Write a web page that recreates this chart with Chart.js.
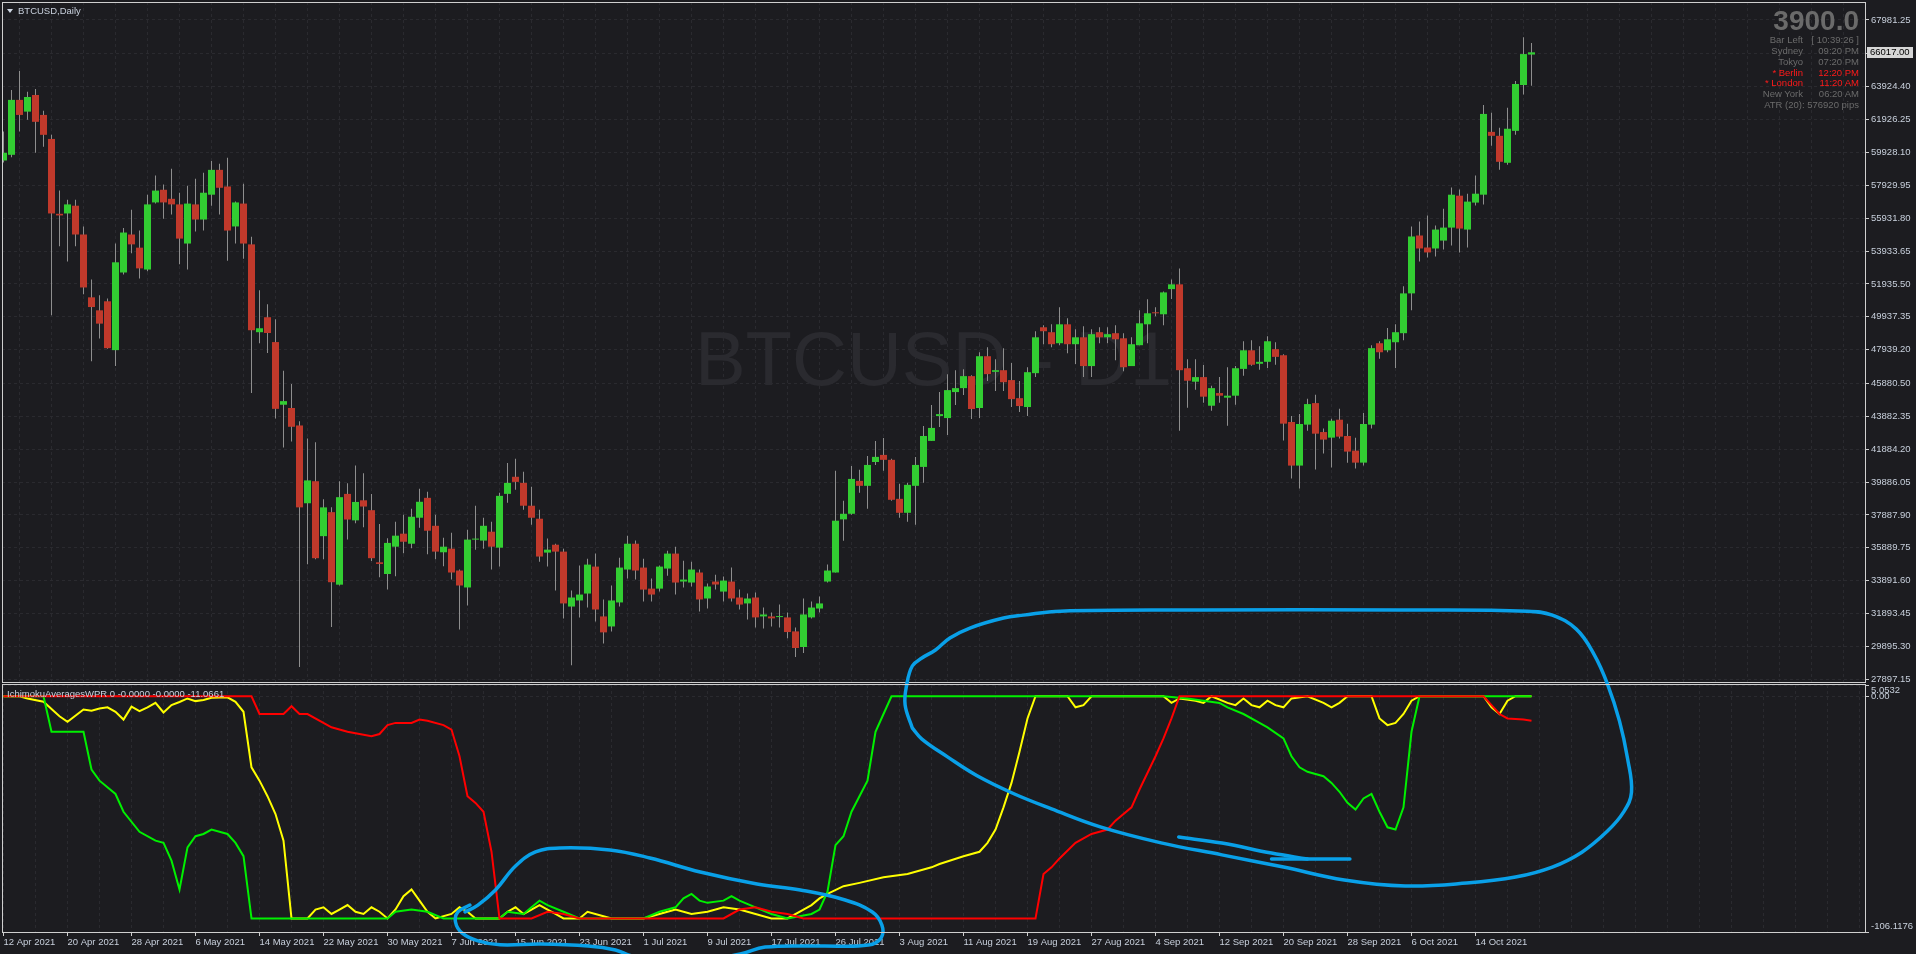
<!DOCTYPE html>
<html>
<head>
<meta charset="utf-8">
<title>BTCUSD,Daily</title>
<script src="https://cdn.jsdelivr.net/npm/chart.js@4.4.1/dist/chart.umd.min.js"></script>
<style>
  html, body { margin: 0; padding: 0; background: #1c1c20; }
  #wrap { position: relative; width: 1916px; height: 954px; overflow: hidden;
          font-family: "Liberation Sans", Arial, sans-serif; }
  #wrap canvas { position: absolute; left: 0; top: 0; }
  .txt { position: absolute; white-space: nowrap; font-size: 9.5px; line-height: 11px; }
  .gray { color: #6b6b6b; }
  .hot { color: #ff1a1a; }
  .r1 { right: 57px; text-align: right; }
  .r2 { right: 113px; text-align: right; }
</style>
</head>
<body>
<div id="wrap">
  <canvas id="price" width="1916" height="954"></canvas>
  <canvas id="wpr" width="1916" height="954"></canvas>

  <div style="position:absolute;left:7px;top:9px;width:0;height:0;border-left:3px solid transparent;border-right:3px solid transparent;border-top:4px solid #d0d8e4;"></div>
  <div class="txt" style="left:18px;top:5px;color:#c8d0dc;">BTCUSD,Daily</div>
  <div class="txt" style="left:7px;top:688px;color:#c8d0dc;">IchimokuAveragesWPR 0 -0.0000 -0.0000 -11.0661</div>

  <div class="txt r1" style="top:6px;font-size:28px;line-height:30px;font-weight:bold;color:#6a6a6a;">3900.0</div>
  <div class="txt gray r2" style="top:33.5px;">Bar Left</div>
  <div class="txt gray r1" style="top:33.5px;">[ 10:39:26 ]</div>
  <div class="txt gray r2" style="top:44.5px;">Sydney</div>
  <div class="txt gray r1" style="top:44.5px;">09:20 PM</div>
  <div class="txt gray r2" style="top:55.5px;">Tokyo</div>
  <div class="txt gray r1" style="top:55.5px;">07:20 PM</div>
  <div class="txt hot r2" style="top:66.5px;">* Berlin</div>
  <div class="txt hot r1" style="top:66.5px;">12:20 PM</div>
  <div class="txt hot r2" style="top:77px;">* London</div>
  <div class="txt hot r1" style="top:77px;">11:20 AM</div>
  <div class="txt gray r2" style="top:88px;">New York</div>
  <div class="txt gray r1" style="top:88px;">06:20 AM</div>
  <div class="txt gray r1" style="top:98.5px;">ATR (20): 576920 pips</div>
</div>

<script>
// ---- data ----
const dateLabels = ['12 Apr 2021','20 Apr 2021','28 Apr 2021','6 May 2021','14 May 2021','22 May 2021',
  '30 May 2021','7 Jun 2021','15 Jun 2021','23 Jun 2021','1 Jul 2021','9 Jul 2021','17 Jul 2021',
  '26 Jul 2021','3 Aug 2021','11 Aug 2021','19 Aug 2021','27 Aug 2021','4 Sep 2021','12 Sep 2021',
  '20 Sep 2021','28 Sep 2021','6 Oct 2021','14 Oct 2021'];
const labelBars = [0,8,16,24,32,40,48,56,64,72,80,88,96,104,112,120,128,136,144,152,160,168,176,184];

const priceTicks = [67981.25,65952.80,63924.40,61926.25,59928.10,57929.95,55931.80,53933.65,51935.50,
  49937.35,47939.20,45880.50,43882.35,41884.20,39886.05,37887.90,35889.75,33891.60,31893.45,29895.30,27897.15];
const wprTicks = [5.0532, 0, -106.1176];
// the max/min labels sit just inside the pane, as MT4 draws them
const wprTickLabels = [['', '5.0532'], '0.00', ['-106.1176', '']];

const opens = [
  59440,59785,63125,62410,63420,62210,60750,56200,56220,56690,54940,51120,
  50330,50880,47910,52630,54940,54140,52810,56890,57660,57110,56770,54390,
  56770,55850,57360,58870,57860,55430,56820,54340,49000,49910,48400,44590,
  44390,43330,38600,39940,36600,38060,33650,39170,37560,38780,38180,35010,
  34300,35960,36750,36140,37720,38930,37230,35620,35840,34510,33480,36390,
  36330,36870,35900,39170,40210,39840,38450,37660,35600,36080,35660,32320,
  32690,33110,34750,31720,31110,32570,34570,36140,34690,33410,33410,34630,
  35540,33840,33780,34390,32810,33840,33230,33840,32870,32510,32870,31720,
  31720,31680,31660,30810,29860,31660,32200,33840,34390,37620,37960,39960,
  39660,41110,41540,41240,38870,38020,39660,40810,42390,43900,43780,45360,
  45600,46330,44390,47540,46590,46690,46090,44990,44450,46510,49300,49000,
  48330,49480,48270,48690,46940,49000,48690,48940,48630,46940,48210,49480,
  50210,50090,51620,51910,46810,45990,46270,44530,45300,45020,45140,46770,
  47900,47080,47200,47970,47600,43540,40890,43380,44690,42930,42590,43680,
  42690,41800,41070,43380,48330,47900,48390,48940,51360,54880,54150,54090,
  54570,55360,57300,55240,56880,57360,61180,60940,59300,61240,64030,65880];
const highs = [
  61200,63720,64880,63620,63790,62460,61000,57610,57060,57060,55430,52210,
  51250,51050,54390,55330,56440,55180,57360,58520,57980,58940,57480,57900,
  58330,58700,59410,59240,59610,56940,58030,54810,51550,50700,49790,46650,
  45850,43580,42540,42310,38850,38350,39940,39810,40900,40430,39170,37340,
  36480,37480,37900,38270,39480,39300,37900,36510,36810,34570,36990,38450,
  37720,37480,39240,41050,41300,40510,39600,38200,36450,36140,35840,33290,
  34810,35230,35540,32750,33600,35290,36630,36330,35230,34020,34810,35720,
  35960,35110,35050,34570,33720,34260,34140,34690,33350,33110,33170,32260,
  31960,32440,31960,31050,32810,32630,32930,34870,40570,38750,40870,40630,
  41480,42390,42570,41300,39780,39840,41420,43300,44570,45360,46450,46690,
  46750,46390,47780,48090,47360,48030,47120,46030,46870,49060,49420,49480,
  50510,49850,49180,49360,49180,49300,49300,49420,48940,48690,50330,51000,
  50510,51480,52210,52880,47360,47360,47000,45740,46270,46870,46940,48450,
  48510,48150,48750,48390,47660,43900,44020,44950,45200,43140,43740,44350,
  43440,42590,44090,48210,48450,49260,49480,51790,55420,55730,56090,55480,
  56510,57790,57670,57420,58520,62820,62340,61430,62640,64280,66940,66580];
const lows = [
  59315,59640,61200,61910,59910,60280,50035,54220,53300,54220,51300,47240,
  48620,48000,46940,52510,53800,52260,52710,56820,55900,56150,53130,52810,
  55130,55180,56690,56150,53350,54390,53470,45310,48330,47730,43750,41990,
  42360,28650,34890,35190,35190,31080,33600,36400,37390,37140,35090,34100,
  33360,34160,35560,35860,37110,35500,35190,34770,33960,30930,32380,35780,
  35840,34570,34750,38630,39420,38200,37300,35050,34750,33290,31600,28750,
  31660,32260,31410,30080,30810,32320,34020,33960,32630,32630,33230,34200,
  33050,33480,33540,32020,32200,33350,32630,32630,32140,31540,31050,30990,
  31110,31050,30400,29250,29490,31600,31960,33780,34390,36320,37900,39240,
  38270,40930,40570,38750,37720,37480,37300,39840,42390,43240,42750,44570,
  45180,43720,43780,46030,45420,45420,44450,44150,43900,46270,48270,48090,
  48210,47720,47060,46270,46270,48330,48330,47300,46630,46940,48210,48330,
  49970,49420,51020,43010,44410,45500,44710,44230,44710,43320,44590,46350,
  46960,46710,46830,47020,42410,40100,39500,43010,40650,41620,40770,42530,
  41070,40710,40890,43140,47380,47780,46830,48510,50330,53300,53540,53600,
  54030,54270,53850,54150,56700,56760,60330,58880,59180,61000,63450,63990];
const closes = [
  59910,63125,62210,63300,61790,61000,56220,56100,56770,54940,51720,50530,
  49520,48030,53250,55060,54340,52880,56770,57610,56890,56770,54690,56820,
  55850,57480,58870,57780,55180,56890,54390,49120,49240,48950,44340,44810,
  43250,38350,39990,35260,38350,33800,38970,37610,38680,38400,35260,34910,
  36190,36630,36260,37780,38690,36930,35660,35960,34390,33600,36390,36410,
  37230,35960,39050,39840,39900,38450,37720,35360,35780,35660,32510,32870,
  33050,34870,32140,30750,32690,34690,36140,34510,33350,33050,34750,35540,
  33780,33960,34570,32750,33540,33660,33900,32810,32440,32810,31660,31840,
  31600,31740,30770,29800,31840,32260,32510,34510,37540,37960,40080,39660,
  40930,41420,41240,38810,38020,39720,40930,42690,43180,44020,45480,45600,
  46330,44330,47540,46450,46690,45960,44930,44510,46570,48690,49060,48270,
  49480,48270,48690,46940,48880,48690,48880,48570,46870,48270,49540,50150,
  50150,51420,51910,46690,46050,46270,45080,45600,45140,45140,46810,47900,
  47020,47200,48450,47500,43440,40890,43420,44630,42830,42470,43620,42650,
  41740,41070,43420,48030,47780,48570,49000,51360,54820,54090,53850,55240,
  55360,57360,55300,56940,57420,62270,60940,59360,61370,64090,65910,66017];

// indicator lines: [bar, value] where the line turns
const yellowWpr = [[0,0],[2,0],[3,-1],[5,-2.5],[7,-9],[8,-11.5],[10,-6],[11,-6.5],[12,-5.5],[13,-5],
  [14,-7],[15,-10.5],[16,-4.7],[17,-6.7],[18,-5],[19,-3],[20,-7.3],[21,-4],[22,-2.6],[23,-1],[24,-2.2],
  [25,-1.7],[26,-0.7],[28,-0.5],[29,-2.5],[30,-7],[31,-32],[32,-38],[33,-45],[34,-53],[35,-65],[36,-100],
  [38,-100],[39,-96],[40,-95],[41,-98],[42,-96],[43,-94],[44,-97],[45,-98],[46,-95],[47,-97],[48,-100],
  [49,-96],[50,-90],[51,-87],[52,-92],[53,-97],[54,-100],[56,-98],[57,-95],[58,-97],[59,-100],[62,-100],
  [63,-97],[64,-95],[65,-98],[66,-96],[67,-94],[68,-96],[69,-98],[70,-100],[72,-100],[73,-97],[75,-99],
  [76,-100],[80,-100],[82,-98],[84,-96],[86,-98],[88,-97],[90,-95],[92,-96],[94,-98],[96,-100],[98,-100],
  [100,-96],[101,-94],[102,-91],[103,-89],[105,-85.5],[107,-84],[110,-81.5],[113,-80],[116,-77],
  [117,-75.5],[120,-72],[122,-70],[123,-66],[124,-60],[125,-50],[126,-39],[127,-25],[128,-10],[129,0],
  [133,0],[134,-5],[135,-4],[136,0],[145,0],[146,-3],[147,-1],[149,-2],[150,-3],[151,0],[153,-3],
  [154,-4],[155,-1],[156,-4],[157,-5],[158,-2],[159,-4],[160,-5],[161,-1],[163,0],[165,-3],[166,-5],
  [167,-3],[168,0],[171,0],[172,-10],[173,-13],[174,-12],[175,-8],[176,-2],[177,0],[185,0],[186,-5],
  [187,-8],[188,-2],[189,0],[191,0]];
const greenWpr = [[0,0],[5,0],[6,-16],[10,-16],[11,-33],[12,-38],[14,-44],[15,-52],[17,-61],[19,-65],
  [20,-66],[21,-74],[22,-87],[23,-68],[24,-63],[25,-62],[26,-60],[28,-62],[29,-66],[30,-72],[31,-100],
  [48,-100],[49,-97],[51,-96],[53,-97],[55,-100],[62,-100],[63,-97],[65,-98],[66,-95],[67,-92],[68,-94],
  [70,-97],[72,-100],[80,-100],[82,-97],[84,-95],[85,-91],[86,-89],[87,-92],[88,-93],[90,-92],[91,-90],
  [92,-92],[94,-95],[96,-98],[98,-100],[101,-98],[102,-96],[103,-88],[104,-67],[105,-63],[106,-52],
  [108,-38],[109,-16],[110,-8],[111,0],[145,0],[148,-1],[150,-2],[152,-3],[153,-5],[155,-8],[157,-12],
  [158,-14],[160,-19],[161,-27],[162,-32],[163,-34],[165,-36],[166,-39],[167,-43],[168,-48],[169,-51],
  [170,-46],[171,-44],[172,-52],[173,-59],[174,-60],[175,-50],[176,-16],[177,0],[191,0]];
const redWpr = [[0,0],[31,0],[32,-8],[35,-8],[36,-4.5],[37,-8],[38,-8],[41,-14],[43,-16],[46,-18],
  [47,-17],[48,-13],[49,-12],[51,-12],[52,-10.5],[53,-11],[55,-13],[56,-15],[57,-27],[58,-45],[59,-48],
  [60,-52],[61,-70],[62,-100],[66,-100],[68,-97],[70,-98],[72,-100],[90,-100],[92,-96],[94,-95],[96,-97],
  [98,-98],[100,-100],[129,-100],[130,-80],[131,-77],[132,-73],[134,-66],[136,-62],[138,-60],[139,-56],
  [141,-50],[142,-42],[144,-27],[145,-19],[146,-10],[147,0],[185,0],[186,-4],[187,-8],[188,-10],
  [190,-10.5],[191,-11.0661]];

// hand-drawn blue marks, in [bar, wpr value] units of the lower pane
const loopBig = [[113.6,-14.3],[112.7,-3.9],[112.9,5.1],[113.6,13.6],[114.8,17.2],[116.5,20.8],
  [118.3,26.2],[120.8,30.7],[125,35.2],[127.5,36.5],[132.1,38.3],[149.6,38.8],[174.6,38.8],[190.5,38.3],
  [193.6,36.5],[196.6,30.2],[198.8,19],[200.5,5.5],[202,-11.2],[203,-27.9],[203.5,-43.2],[202.5,-52.2],
  [200.5,-60.7],[197.3,-70.2],[193.6,-76.9],[189,-81.4],[182.9,-84.1],[175.2,-85.4],[167.6,-82.7],
  [160,-76.9],[152.3,-71.4],[144.7,-66],[137.1,-58.8],[131,-50.7],[126.3,-43.9],[121.7,-35.8],
  [118,-27.3],[114.8,-19.3],[113.6,-14.3]];
const strokeA = [[146.9,-63.4],[152.3,-66.1],[158.5,-70.6],[163,-73.3]];
const strokeB = [[158.5,-73.3],[168.3,-73.3]];
const loopSmall = [[58.3,-94],[56.8,-97.1],[56.5,-101.6],[57.3,-106.5],[59.3,-110.1],[62.1,-111.9],
  [67.1,-111.5],[73.1,-112.4],[76.5,-114.2],[78.6,-116.9],[85.8,-119.6],[92.1,-116],[95.2,-112.9],
  [102.1,-112.4],[108.1,-112],[109.7,-108.8],[109.8,-103],[108.6,-97.1],[105.2,-91.7],[99.6,-87.2],
  [94.2,-84.5],[87.1,-79.1],[80.8,-72.8],[75.8,-69.2],[69.6,-68.3],[66.5,-70.1],[64,-76.4],[61.5,-87.2],
  [59.3,-94],[57.7,-97.1]];

// ---- look ----
const upColor = '#32cd32', downColor = '#c0392b', wickColor = '#8e8e8e';
const gridColor = '#2a2a2f', frameColor = '#cfcfcf', axisText = '#c8d0dc';
const tickFont = { family: '"Liberation Sans", Arial, sans-serif', size: 9.5, lineHeight: 1.15 };
const xMin = -0.1875, xMax = xMin + 1863 / 8;   // 8 px per daily bar
const gridBars = [];
for (let b = 0; b <= 232; b += 4) gridBars.push(b);

// pane border; dy shifts the top edge so the two panes leave a 1px gap
const frame = dy => ({
  id: 'frame',
  afterDraw(chart) {
    const a = chart.chartArea, ctx = chart.ctx;
    ctx.save();
    ctx.strokeStyle = frameColor;
    ctx.lineWidth = 1;
    ctx.strokeRect(a.left + 0.5, a.top + 0.5 + dy, a.right - a.left, a.bottom - a.top - dy);
    ctx.restore();
  }
});

const watermark = {
  id: 'watermark',
  beforeDatasetsDraw(chart) {
    const a = chart.chartArea, ctx = chart.ctx;
    ctx.save();
    ctx.font = '76px "Liberation Sans", Arial, sans-serif';
    ctx.fillStyle = '#2a2a2f';
    ctx.textAlign = 'center';
    ctx.textBaseline = 'alphabetic';
    ctx.fillText('BTCUSD - D1', (a.left + a.right) / 2, a.top + (a.bottom - a.top) * 0.5625);
    ctx.restore();
  }
};

const lastPrice = {
  id: 'lastPrice',
  afterDraw(chart) {
    const y = Math.round(chart.scales.y.getPixelForValue(closes[closes.length - 1]));
    const ctx = chart.ctx;
    ctx.save();
    ctx.fillStyle = '#d6d6d6';
    ctx.fillRect(chart.chartArea.right + 2, y - 5, 46, 11);
    ctx.fillStyle = '#000';
    ctx.font = '9.5px "Liberation Sans", Arial, sans-serif';
    ctx.textBaseline = 'middle';
    ctx.fillText(closes[closes.length - 1].toFixed(2), chart.chartArea.right + 5, y + 0.5);
    ctx.restore();
  }
};

const idx = closes.map((_, i) => i);

new Chart(document.getElementById('price'), {
  type: 'bar',
  data: {
    datasets: [
      {
        label: 'body', order: 1, grouped: false, inflateAmount: 0,
        barThickness: 7, minBarLength: 1,
        data: idx.map(i => ({ x: i, y: [opens[i], closes[i]] })),
        backgroundColor: c => closes[c.dataIndex] >= opens[c.dataIndex] ? upColor : downColor
      },
      {
        label: 'wick', order: 2, grouped: false, inflateAmount: 0,
        barThickness: 1,
        data: idx.map(i => ({ x: i, y: [lows[i], highs[i]] })),
        backgroundColor: wickColor
      }
    ]
  },
  options: {
    responsive: false,
    animation: false,
    events: [],
    layout: { padding: { left: 2, top: 2, right: 0, bottom: 272 } },
    plugins: { legend: { display: false }, tooltip: { enabled: false } },
    scales: {
      x: {
        type: 'linear', min: xMin, max: xMax, offset: false,
        afterBuildTicks: s => { s.ticks = gridBars.map(v => ({ value: v })); },
        afterFit: s => { s.height = 0; s.paddingLeft = 0; s.paddingRight = 0; },
        ticks: { display: false },
        grid: { color: gridColor, drawTicks: false },
        border: { display: false, dash: [3, 3] }
      },
      y: {
        type: 'linear', position: 'right', min: 27733, max: 69075.6,
        afterBuildTicks: s => { s.ticks = priceTicks.map(v => ({ value: v })); },
        afterFit: s => { s.width = 51; s.paddingTop = 0; s.paddingBottom = 0; },
        ticks: { color: axisText, font: tickFont, padding: 2, autoSkip: false,
                 callback: v => v.toFixed(2) },
        grid: { color: gridColor, tickColor: frameColor, tickLength: 4 },
        border: { display: false, dash: [3, 3] }
      }
    }
  },
  plugins: [watermark, frame(0), lastPrice]
});

const pts = arr => arr.map(p => ({ x: p[0], y: p[1] }));
const blue = arr => ({
  data: pts(arr), borderColor: '#09a0e8', borderWidth: 3.5, pointRadius: 0,
  tension: 0.4, capBezierPoints: false, clip: false, order: 0,
  borderCapStyle: 'round', borderJoinStyle: 'round'
});

new Chart(document.getElementById('wpr'), {
  type: 'line',
  data: {
    datasets: [
      { data: pts(yellowWpr), borderColor: '#ffff00', borderWidth: 2, pointRadius: 0, order: 3 },
      { data: pts(greenWpr), borderColor: '#00f000', borderWidth: 2, pointRadius: 0, order: 2 },
      { data: pts(redWpr), borderColor: '#ff0000', borderWidth: 2, pointRadius: 0, order: 1 },
      blue(loopBig), blue(strokeA), blue(strokeB), blue(loopSmall)
    ]
  },
  options: {
    responsive: false,
    animation: false,
    events: [],
    layout: { padding: { left: 2, top: 685, right: 0, bottom: 0 } },
    plugins: { legend: { display: false }, tooltip: { enabled: false } },
    scales: {
      x: {
        type: 'linear', min: xMin, max: xMax, offset: false,
        afterBuildTicks: s => { s.ticks = gridBars.map(v => ({ value: v })); },
        afterFit: s => { s.height = 22; s.paddingLeft = 0; s.paddingRight = 0; },
        ticks: {
          color: axisText, font: tickFont, autoSkip: false, maxRotation: 0, minRotation: 0,
          align: 'start', padding: 1,
          callback: v => { const k = labelBars.indexOf(v); return k >= 0 ? dateLabels[k] : ''; }
        },
        grid: {
          color: gridColor, tickLength: 4,
          tickColor: c => (c.tick && labelBars.includes(c.tick.value)) ? frameColor : 'rgba(0,0,0,0)'
        },
        border: { display: false, dash: [3, 3] }
      },
      y: {
        type: 'linear', position: 'right', min: -106.1176, max: 5.0532,
        afterBuildTicks: s => { s.ticks = wprTicks.map(v => ({ value: v })); },
        afterFit: s => { s.width = 51; s.paddingTop = 0; s.paddingBottom = 0; },
        ticks: { color: axisText, font: tickFont, padding: 2, autoSkip: false,
                 callback: v => wprTickLabels[wprTicks.indexOf(v)] },
        grid: { color: gridColor, tickColor: frameColor, tickLength: 4 },
        border: { display: false, dash: [3, 3] }
      }
    }
  },
  plugins: [frame(-1)]
});
</script>
</body>
</html>
